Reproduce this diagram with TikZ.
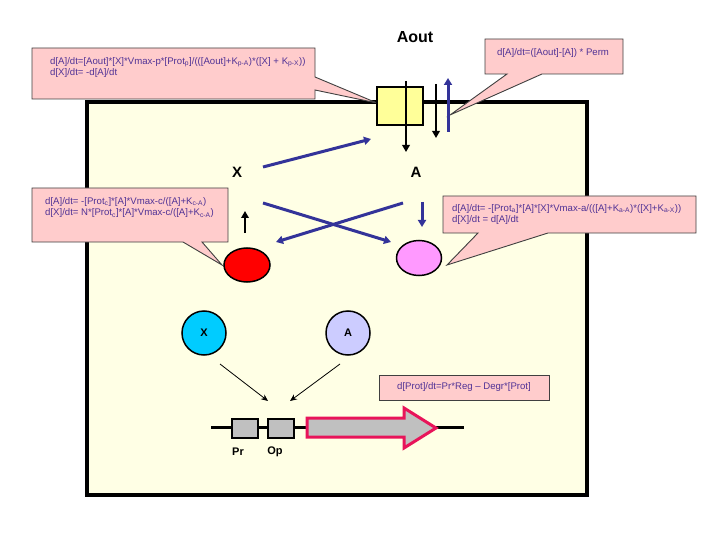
\documentclass[tikz,border=0pt]{standalone}
\usepackage{fontspec}
\setmainfont{Liberation Sans}
\usetikzlibrary{arrows.meta,shapes.geometric}
\definecolor{cellbg}{RGB}{255,255,229}
\definecolor{calloutbg}{RGB}{255,204,204}
\definecolor{eqtext}{RGB}{80,50,150}
\definecolor{chanbg}{RGB}{255,255,153}
\definecolor{arrowblue}{RGB}{51,51,153}
\definecolor{cyanc}{RGB}{0,204,255}
\definecolor{lavc}{RGB}{204,204,255}
\definecolor{pinkc}{RGB}{255,153,255}
\definecolor{genered}{RGB}{232,20,90}
\definecolor{boxgray}{RGB}{192,192,192}
\begin{document}
\begin{tikzpicture}[x=1pt,y=-1pt,
  callout/.style={fill=calloutbg, draw=black!75, line width=0.9pt},
  eq/.style={text=eqtext, font=\fontsize{9.6}{11.2}\selectfont, align=left, inner sep=0pt},
  bluearrow/.style={draw=arrowblue, line width=3pt, -{Triangle[length=7pt,width=8pt]}},
  blackarrow/.style={draw=black, line width=2.5pt, -{Triangle[length=7pt,width=7.5pt]}},
  thinarrow/.style={draw=black, line width=0.8pt, -{Stealth[length=7pt,width=6pt]}},
  lbl/.style={font=\bfseries\fontsize{15}{17}\selectfont, inner sep=0pt},
  small/.style={font=\bfseries\fontsize{11}{13}\selectfont, inner sep=0pt},
  mol/.style={circle, draw=black, line width=1.5pt, minimum size=44pt, inner sep=0pt, font=\bfseries\fontsize{11}{13}\selectfont}
]
\useasboundingbox (0,0) rectangle (719,537);
\fill[white] (0,0) rectangle (719,537);

% cell
\draw[line width=4pt, fill=cellbg] (87,102) rectangle (587,495);

% callouts
\draw[callout] (32,48) -- (315,48) -- (315,77) -- (377,103) -- (315,90) -- (315,99) -- (32,99) -- cycle;
\node[eq, anchor=west] (eq1) at (50,67.5) {d[A]/dt=[Aout]*[X]*Vmax-p*[Prot\textsubscript{p}]/(([Aout]+K\textsubscript{p-A})*([X] + K\textsubscript{p-X}))\\d[X]/dt= -d[A]/dt};

\draw[callout] (485,39) -- (623,39) -- (623,74) -- (542,74) -- (450,115) -- (507,74) -- (485,74) -- cycle;
\node[eq, anchor=west] (eqperm) at (497,53) {d[A]/dt=([Aout]-[A]) * Perm};

\draw[callout] (32,188) -- (228,188) -- (228,242) -- (202,242) -- (222,265) -- (183,242) -- (32,242) -- cycle;
\node[eq, anchor=west] (eq3) at (45,207.5) {d[A]/dt= -[Prot\textsubscript{c}]*[A]*Vmax-c/([A]+K\textsubscript{c-A})\\d[X]/dt= N*[Prot\textsubscript{c}]*[A]*Vmax-c/([A]+K\textsubscript{c-A})};

\draw[callout] (443,196) -- (696,196) -- (696,233) -- (548,233) -- (447,265) -- (478,233) -- (443,233) -- cycle;
\node[eq, anchor=west] (eq4) at (452,214.5) {d[A]/dt= -[Prot\textsubscript{a}]*[A]*[X]*Vmax-a/(([A]+K\textsubscript{a-A})*([X]+K\textsubscript{a-X}))\\d[X]/dt = d[A]/dt};

% channel
\node[draw=black, line width=1.5pt, fill=chanbg, minimum width=46pt, minimum height=38pt, inner sep=0pt] (chan) at (400,106) {};
\coordinate (chtop) at (406,81);
\coordinate (chbot) at (406,152);
\draw[blackarrow] (chtop) -- (chbot);
\coordinate (outtop) at (436,84);
\coordinate (outbot) at (436,138);
\draw[blackarrow] (outtop) -- (outbot);
\coordinate (upbot) at (448,132);
\coordinate (uptop) at (448,78);
\draw[bluearrow] (upbot) -- (uptop);

% labels
\node[font=\bfseries\fontsize{16}{18}\selectfont, inner sep=0pt] (aout) at (415,37) {Aout};
\node[lbl] (X) at (237,172) {X};
\node[lbl] (A) at (416,172) {A};

% blue arrows
\coordinate (x1) at (263,167); \coordinate (c1) at (371,139);
\draw[bluearrow] (x1) -- (c1);
\coordinate (x2) at (263,203); \coordinate (p2) at (391,242);
\draw[bluearrow] (x2) -- (p2);
\coordinate (a2) at (403,203); \coordinate (r2) at (276,242);
\draw[bluearrow] (a2) -- (r2);
\coordinate (a3) at (422,202); \coordinate (p3) at (422,227);
\draw[bluearrow] (a3) -- (p3);
\coordinate (r3) at (245,233); \coordinate (x3) at (245,211);
\draw[blackarrow] (r3) -- (x3);

% ellipses
\node[ellipse, draw=black, line width=1.5pt, fill=red, minimum width=46pt, minimum height=34pt, inner sep=0pt] (redell) at (247,265) {};
\node[ellipse, draw=black, line width=1.5pt, fill=pinkc, minimum width=45pt, minimum height=35pt, inner sep=0pt] (pinkell) at (419,258) {};

% molecules
\node[mol, fill=cyanc] (mx) at (204,333) {X};
\node[mol, fill=lavc] (ma) at (348,333) {A};
\coordinate (mxa) at (220,364); \coordinate (mxb) at (268,401);
\draw[thinarrow] (mxa) -- (mxb);
\coordinate (maa) at (340,364); \coordinate (mab) at (290,401);
\draw[thinarrow] (maa) -- (mab);

% gene
\coordinate (dnaL) at (211,427); \coordinate (dnaR) at (464,427);
\draw[line width=3pt] (dnaL) -- (dnaR);
\node[draw=black, line width=1.3pt, fill=boxgray, minimum width=26pt, minimum height=19pt, inner sep=0pt] (pr) at (245,428.5) {};
\node[draw=black, line width=1.3pt, fill=boxgray, minimum width=26pt, minimum height=19pt, inner sep=0pt] (op) at (281,428.5) {};
\draw[draw=genered, fill=boxgray, line width=3pt, line join=miter] (307,418) -- (404,418) -- (404,408) -- (436,428) -- (404,448) -- (404,437) -- (307,437) -- cycle;
\node[small] (prl) at (238,452) {Pr};
\node[small] (opl) at (275,452) {Op};

% prot box
\node[draw=black!75, line width=0.9pt, fill=calloutbg, minimum width=170pt, minimum height=25pt, inner sep=0pt, text=eqtext, font=\fontsize{9.6}{11}\selectfont] (protbox) at (464,387.5) {d[Prot]/dt=Pr*Reg – Degr*[Prot]};
\end{tikzpicture}
\end{document}
